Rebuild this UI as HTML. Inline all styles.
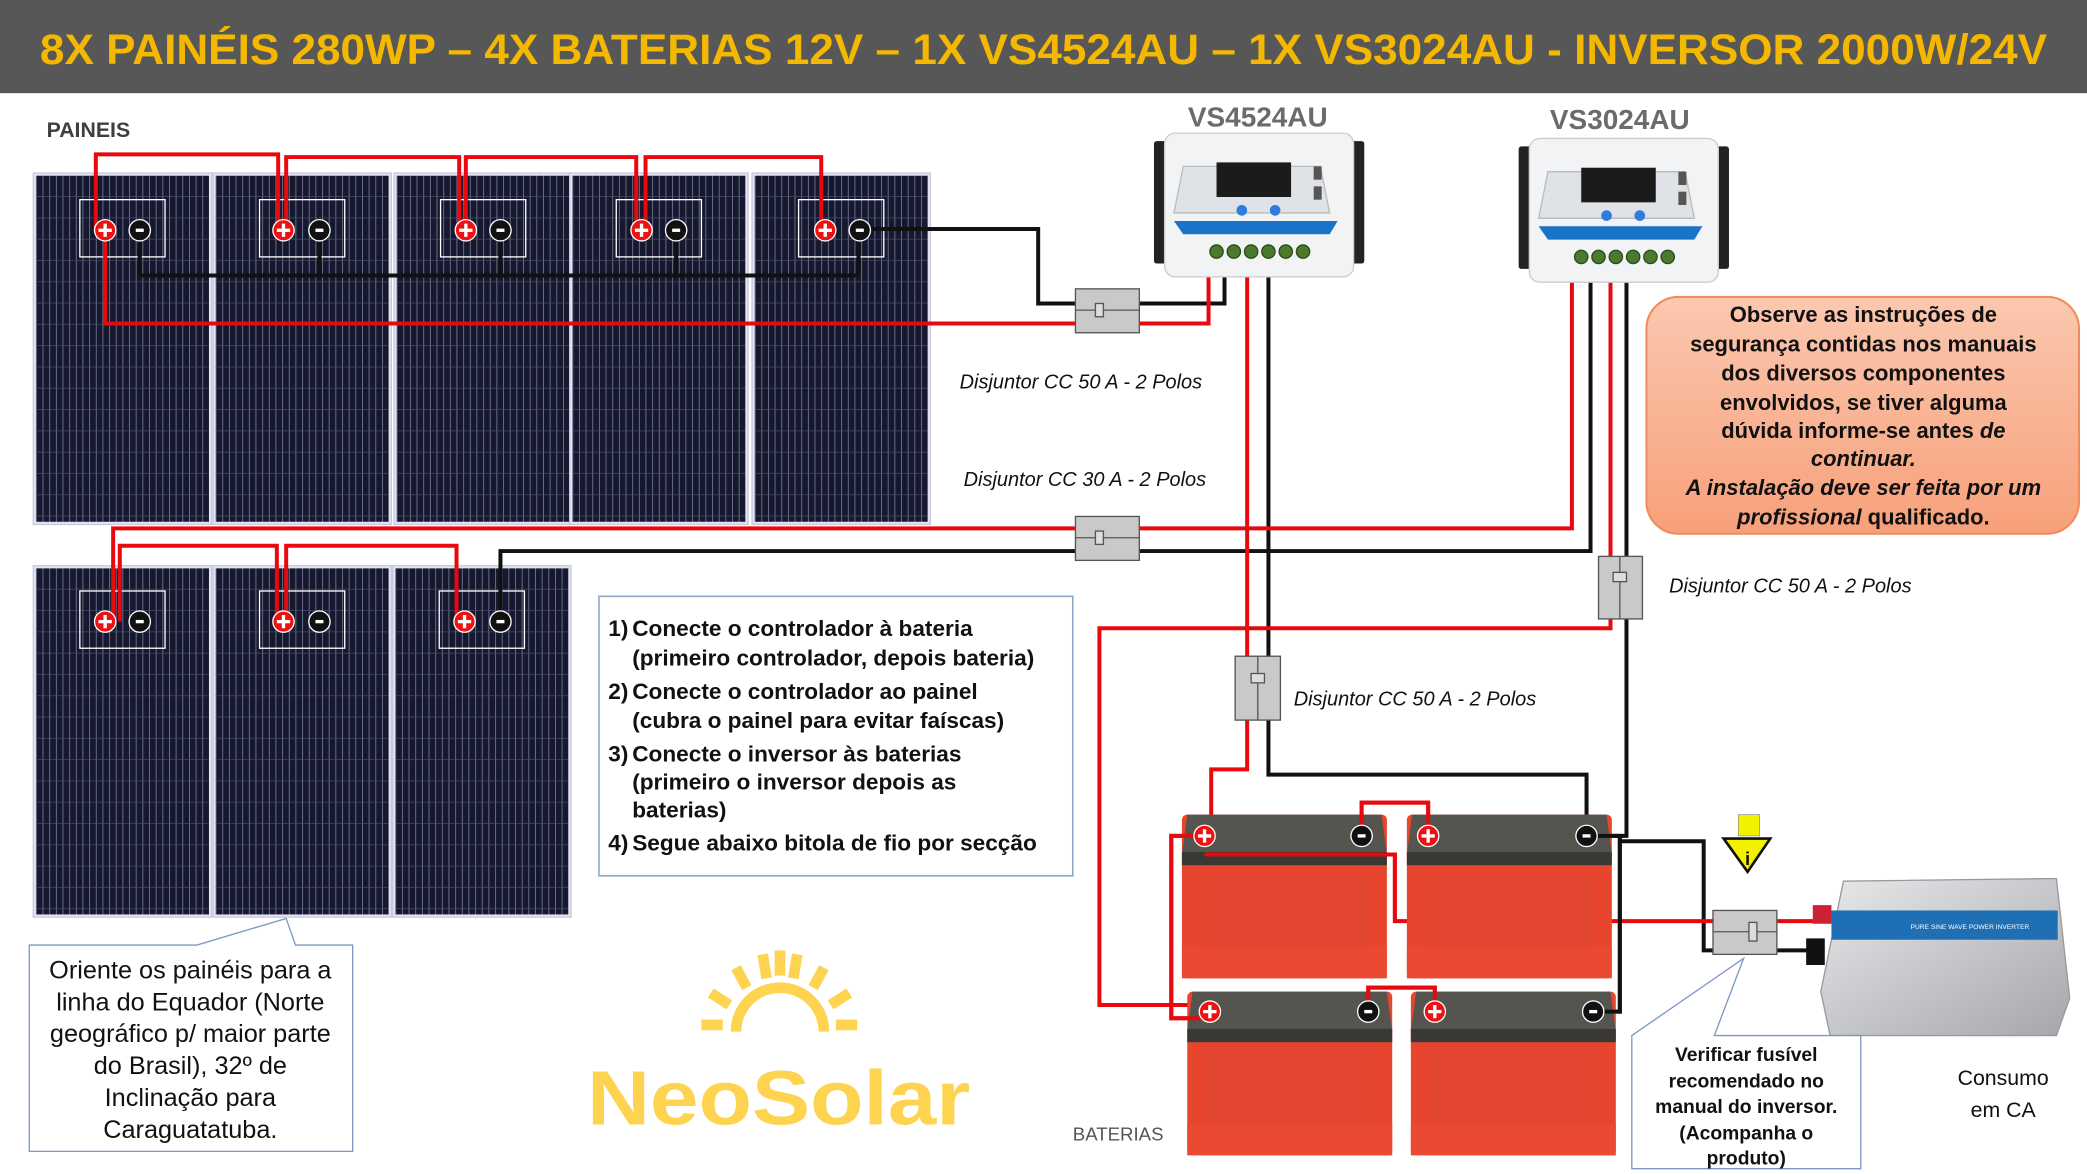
<!DOCTYPE html>
<html><head><meta charset="utf-8"><style>
html,body{margin:0;padding:0;background:#fff}
svg{display:block}
text{font-family:"Liberation Sans",sans-serif}
</style></head><body>
<svg width="2087" height="1174" viewBox="0 0 1568 882" preserveAspectRatio="none" xmlns="http://www.w3.org/2000/svg">
<defs>
<pattern id="cells" width="5" height="16" patternUnits="userSpaceOnUse">
<rect width="5" height="16" fill="#15182e"/>
<line x1="0.3" y1="0" x2="0.3" y2="16" stroke="#7d8199" stroke-width="0.6"/>
<line x1="0" y1="15.7" x2="5" y2="15.7" stroke="#4c5070" stroke-width="0.5"/>
</pattern>
<linearGradient id="org" x1="0" y1="0" x2="0" y2="1"><stop offset="0" stop-color="#fbc8b0"/><stop offset="1" stop-color="#f7a07a"/></linearGradient>
<linearGradient id="inv" x1="0" y1="0" x2="1" y2="1"><stop offset="0" stop-color="#e8e8ea"/><stop offset="1" stop-color="#a5a7ad"/></linearGradient>
<g id="panel"><rect x="-2" y="-2" width="134" height="264" fill="#e4e4f2" stroke="#c8c8e0"/><rect x="0" y="0" width="130" height="260" fill="url(#cells)"/></g>
<g id="bat">
<rect x="0" y="0" width="154" height="123" rx="4" fill="#e8452e"/>
<path d="M4 0 H150 L154 30 H0 Z" fill="#55544f"/>
<rect x="0" y="28" width="154" height="10" fill="#3a3835"/>
<rect x="14" y="44" width="126" height="55" fill="#e24630"/>
<rect x="0" y="100" width="154" height="23" fill="#ea4a32"/>
</g>
<g id="ctrl">
<rect x="0" y="6" width="10" height="92" rx="2" fill="#222"/>
<rect x="148" y="6" width="10" height="92" rx="2" fill="#222"/>
<rect x="8" y="0" width="142" height="108" rx="8" fill="#f2f3f5" stroke="#ccc"/>
<path d="M22 25 H125 L132 60 H15 Z" fill="#dfe2e6" stroke="#bbb"/>
<rect x="47" y="22" width="56" height="26" fill="#1b1b1b"/>
<circle cx="66" cy="58" r="4" fill="#2f7be0"/><circle cx="91" cy="58" r="4" fill="#2f7be0"/>
<path d="M15 66 H138 L132 76 H22 Z" fill="#1873c9"/>
<g fill="#4c7a2d" stroke="#2b4b1a"><circle cx="47" cy="89" r="5"/><circle cx="60" cy="89" r="5"/><circle cx="73" cy="89" r="5"/><circle cx="86" cy="89" r="5"/><circle cx="99" cy="89" r="5"/><circle cx="112" cy="89" r="5"/></g>
<rect x="120" y="25" width="6" height="10" fill="#555"/><rect x="120" y="40" width="6" height="10" fill="#555"/>
</g>
<g id="plus"><circle r="8" fill="#e11" stroke="#fff" stroke-width="1"/><path d="M-5 0 H5 M0 -5 V5" stroke="#fff" stroke-width="2.5"/></g>
<g id="minus"><circle r="8" fill="#111" stroke="#fff" stroke-width="1"/><path d="M-3 0 H3" stroke="#fff" stroke-width="2.5"/></g>
</defs>

<rect x="0" y="0" width="1568" height="70" fill="#575757"/>
<text x="784" y="48" text-anchor="middle" font-size="32" font-weight="bold" fill="#f5b800" textLength="1508" lengthAdjust="spacingAndGlyphs">8X PAINÉIS 280WP – 4X BATERIAS 12V – 1X VS4524AU – 1X VS3024AU - INVERSOR 2000W/24V</text>
<text x="35" y="103" font-size="16" font-weight="bold" fill="#3f3f3f">PAINEIS</text>

<use href="#panel" x="27" y="132"/><use href="#panel" x="162" y="132"/><use href="#panel" x="298" y="132"/><use href="#panel" x="430" y="132"/><use href="#panel" x="567" y="132"/>
<use href="#panel" x="27" y="427"/><use href="#panel" x="162" y="427"/><use href="#panel" x="297" y="427"/>
<g fill="none" stroke="#fff" stroke-width="1">
<rect x="60" y="150" width="64" height="43"/><rect x="195" y="150" width="64" height="43"/><rect x="331" y="150" width="64" height="43"/><rect x="463" y="150" width="64" height="43"/><rect x="600" y="150" width="64" height="43"/>
<rect x="60" y="444" width="64" height="43"/><rect x="195" y="444" width="64" height="43"/><rect x="330" y="444" width="64" height="43"/>
</g>

<g fill="none" stroke-width="3" stroke-linejoin="miter">
<g stroke="#111">
<path d="M105 173 V207 H645 M240 173 V207 M376 173 V207 M508 173 V207 M645 173 V207"/>
<path d="M645 172 H780 V228 H808 M856 228 H920 V205"/>
<path d="M376 467 V414 H1195 V210"/>
<path d="M953 205 V582 H1192 V628"/>
<path d="M1222 210 V418 M1222 465 V628 H1192 M1217 628 V760 H1197 M1217 632 H1280 V714 H1287 M1335 714 H1362"/>
</g>
<g stroke="#e8090f">
<path d="M72 173 V116 H209 V173 M215 173 V118 H345 V173 M350 173 V118 H478 V173 M485 173 V118 H617 V173"/>
<path d="M79 173 V243 H808 M856 243 H908 V205"/>
<path d="M85 467 V397 H808 M856 397 H1181 V210"/>
<path d="M90 467 V410 H208 V467 M215 467 V410 H343 V467"/>
<path d="M937 205 V493 M937 541 V578 H910 V628"/>
<path d="M1210 210 V418 M1210 465 V472 H826 V755 H909"/>
<path d="M905 628 H880 V765 H909"/>
<path d="M1023 628 V603 H1073 V628 M1028 760 V742 H1078 V760"/>
<path d="M905 642 H1048 V692 H1287 M1335 692 H1372"/>
</g>
</g>

<use href="#plus" x="79" y="173"/><use href="#minus" x="105" y="173"/>
<use href="#plus" x="213" y="173"/><use href="#minus" x="240" y="173"/>
<use href="#plus" x="350" y="173"/><use href="#minus" x="376" y="173"/>
<use href="#plus" x="482" y="173"/><use href="#minus" x="508" y="173"/>
<use href="#plus" x="620" y="173"/><use href="#minus" x="646" y="173"/>
<use href="#plus" x="79" y="467"/><use href="#minus" x="105" y="467"/>
<use href="#plus" x="213" y="467"/><use href="#minus" x="240" y="467"/>
<use href="#plus" x="349" y="467"/><use href="#minus" x="376" y="467"/>

<g fill="#c9c9c9" stroke="#555" stroke-width="1">
<rect x="808" y="217" width="48" height="33"/><line x1="808" y1="233" x2="856" y2="233"/><rect x="823" y="228" width="6" height="10" fill="#ddd"/>
<rect x="808" y="388" width="48" height="33"/><line x1="808" y1="404" x2="856" y2="404"/><rect x="823" y="399" width="6" height="10" fill="#ddd"/>
<rect x="1201" y="418" width="33" height="47"/><line x1="1217" y1="418" x2="1217" y2="465"/><rect x="1212" y="430" width="10" height="7" fill="#ddd"/>
<rect x="928" y="493" width="34" height="48"/><line x1="945" y1="493" x2="945" y2="541"/><rect x="940" y="506" width="10" height="7" fill="#ddd"/>
<rect x="1287" y="684" width="48" height="33"/><line x1="1287" y1="700" x2="1335" y2="700"/><rect x="1314" y="693" width="6" height="14" fill="#ddd"/>
</g>

<text x="945" y="95" text-anchor="middle" font-size="21" font-weight="bold" fill="#6b6b6b">VS4524AU</text>
<text x="1217" y="97" text-anchor="middle" font-size="21" font-weight="bold" fill="#6b6b6b">VS3024AU</text>
<use href="#ctrl" x="867" y="100"/>
<use href="#ctrl" x="1141" y="104"/>

<g font-size="15" font-style="italic" fill="#111">
<text x="721" y="292">Disjuntor CC 50 A - 2 Polos</text>
<text x="724" y="365">Disjuntor CC 30 A - 2 Polos</text>
<text x="1254" y="445">Disjuntor CC 50 A - 2 Polos</text>
<text x="972" y="530">Disjuntor CC 50 A - 2 Polos</text>
</g>

<rect x="1237" y="223" width="325" height="178" rx="24" fill="url(#org)" stroke="#f08a5a" stroke-width="1.5"/>
<g font-size="16.5" font-weight="bold" fill="#111" text-anchor="middle">
<text x="1400" y="242">Observe as instruções de</text>
<text x="1400" y="264">segurança contidas nos manuais</text>
<text x="1400" y="286">dos diversos componentes</text>
<text x="1400" y="308">envolvidos, se tiver alguma</text>
<text x="1400" y="329">dúvida informe-se antes <tspan font-style="italic">de</tspan></text>
<text x="1400" y="350" font-style="italic">continuar.</text>
<text x="1400" y="372" font-style="italic">A instalação deve ser feita por um</text>
<text x="1400" y="394"><tspan font-style="italic">profissional</tspan> qualificado.</text>
</g>

<rect x="450" y="448" width="356" height="210" fill="#fff" stroke="#8fa8c8" stroke-width="1.2"/>
<g font-size="17" font-weight="bold" fill="#111">
<text x="457" y="478">1)</text><text x="475" y="478">Conecte o controlador à bateria</text>
<text x="475" y="500">(primeiro controlador, depois bateria)</text>
<text x="457" y="525">2)</text><text x="475" y="525">Conecte o controlador ao painel</text>
<text x="475" y="547">(cubra o painel para evitar faíscas)</text>
<text x="457" y="572">3)</text><text x="475" y="572">Conecte o inversor às baterias</text>
<text x="475" y="593">(primeiro o inversor depois  as</text>
<text x="475" y="614">baterias)</text>
<text x="457" y="639">4)</text><text x="475" y="639">Segue abaixo bitola de fio por secção</text>
</g>

<use href="#bat" x="888" y="612"/><use href="#bat" x="1057" y="612"/>
<use href="#bat" x="892" y="745"/><use href="#bat" x="1060" y="745"/>
<g fill="none" stroke-width="3">
<path d="M905 628 H880 V765 H909" stroke="#e8090f"/>
<path d="M905 642 H1048 V692" stroke="#e8090f"/>
<path d="M1023 628 V603 H1073 V628 M1028 760 V742 H1078 V760" stroke="#e8090f"/>
<path d="M1192 628 H1217 V760 H1197" stroke="#111"/>
</g>
<use href="#plus" x="905" y="628"/><use href="#minus" x="1023" y="628"/>
<use href="#plus" x="1073" y="628"/><use href="#minus" x="1192" y="628"/>
<use href="#plus" x="909" y="760"/><use href="#minus" x="1028" y="760"/>
<use href="#plus" x="1078" y="760"/><use href="#minus" x="1197" y="760"/>
<text x="806" y="857" font-size="14" fill="#555">BATERIAS</text>

<rect x="1362" y="680" width="14" height="14" fill="#c23"/>
<rect x="1357" y="705" width="14" height="20" fill="#111"/>
<path d="M1385 662 L1545 660 L1555 750 L1545 778 L1375 778 L1368 745 Z" fill="url(#inv)" stroke="#999"/>
<rect x="1376" y="684" width="170" height="22" fill="#1f6fb5"/>
<text x="1480" y="698" font-size="5" fill="#fff" text-anchor="middle">PURE SINE WAVE POWER INVERTER</text>
<text x="1505" y="815" text-anchor="middle" font-size="16" fill="#111">Consumo</text>
<text x="1505" y="839" text-anchor="middle" font-size="16" fill="#111">em CA</text>

<rect x="1306" y="612" width="16" height="16" fill="#f2f200" stroke="#888" stroke-width="0.5"/>
<path d="M1295 630 L1330 630 L1313 655 Z" fill="#f2f200" stroke="#111" stroke-width="2"/>
<text x="1313" y="650" font-size="14" font-weight="bold" text-anchor="middle" fill="#111">i</text>

<path d="M1226 778 L1310 720 L1288 778 L1398 778 L1398 878 L1226 878 Z" fill="#fff" stroke="#7c98c4" stroke-width="1"/>
<g font-size="14.5" font-weight="bold" fill="#111" text-anchor="middle">
<text x="1312" y="797">Verificar  fusível</text>
<text x="1312" y="817">recomendado no</text>
<text x="1312" y="836">manual do inversor.</text>
<text x="1312" y="856">(Acompanha o</text>
<text x="1312" y="875">produto)</text>
</g>

<path d="M22 710 L148 710 L215 690 L222 710 L265 710 L265 865 L22 865 Z" fill="#fff" stroke="#7c98c4" stroke-width="1"/>
<g font-size="19" fill="#111" text-anchor="middle">
<text x="143" y="735">Oriente os painéis para a</text>
<text x="143" y="759">linha do Equador (Norte</text>
<text x="143" y="783">geográfico p/ maior parte</text>
<text x="143" y="807">do Brasil), 32º de</text>
<text x="143" y="831">Inclinação para</text>
<text x="143" y="855">Caraguatatuba.</text>
</g>

<g stroke="#fdd34f" stroke-width="8" fill="none">
<path d="M553 775 A33 33 0 0 1 619 775"/>
<line x1="527" y1="770" x2="543" y2="770"/><line x1="628" y1="770" x2="644" y2="770"/>
<line x1="534" y1="746" x2="548" y2="755"/><line x1="638" y1="746" x2="624" y2="755"/>
<line x1="553" y1="727" x2="561" y2="742"/><line x1="619" y1="727" x2="611" y2="742"/>
<line x1="573" y1="717" x2="576" y2="735"/><line x1="586" y1="714" x2="586" y2="733"/><line x1="599" y1="717" x2="596" y2="735"/>
</g>
<text x="585" y="845" text-anchor="middle" font-size="58" font-weight="bold" fill="#fdd34f" textLength="288" lengthAdjust="spacingAndGlyphs">NeoSolar</text>
</svg>
</body></html>
